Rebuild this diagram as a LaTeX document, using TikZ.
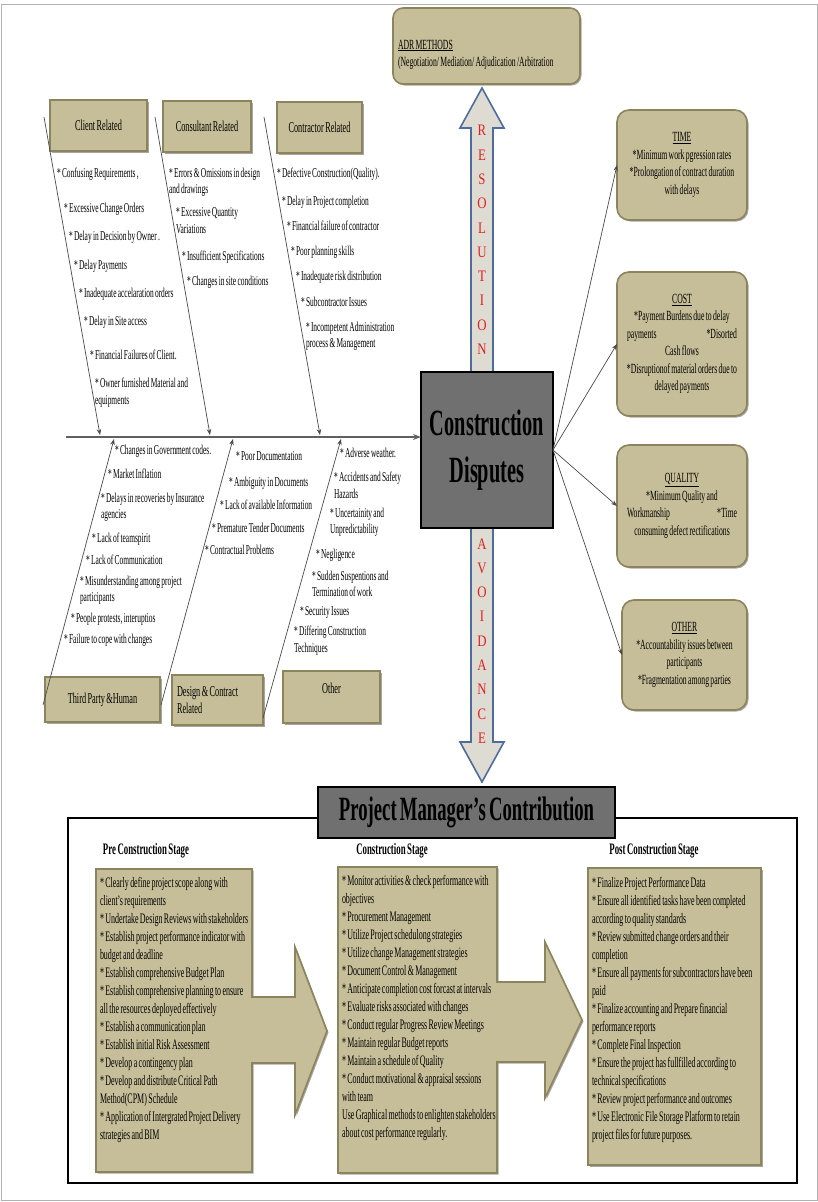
\documentclass[tikz,border=0pt]{standalone}
\usepackage{fontspec}
\setmainfont{Liberation Serif}[FakeStretch=0.55,WordSpace=0.7]
\newfontfamily\spinefont{Liberation Serif}[FakeStretch=0.8]
\usetikzlibrary{arrows.meta,shadows}

\definecolor{khaki}{HTML}{C6BE98}
\definecolor{khakiedge}{HTML}{8C845C}
\definecolor{slate}{HTML}{707070}
\definecolor{blockfill}{HTML}{DEDCD2}
\definecolor{blockedge}{HTML}{4E6C9C}
\definecolor{bonegray}{HTML}{4A4A4A}
\definecolor{signred}{HTML}{E0201C}

\newcommand{\fs}[2]{\fontsize{#1}{#2}\selectfont}

\begin{document}
\begin{tikzpicture}[x=1pt,y=-1pt,
  every node/.style={inner sep=0pt,outer sep=0pt},
  softshadow/.style={drop shadow={shadow xshift=1.5pt,shadow yshift=-1.5pt,fill=black,opacity=0.35}},
  catbox/.style={draw=khakiedge,line width=1.6pt,fill=khaki,softshadow,font=\fs{15}{17}},
  effbox/.style={draw=khakiedge,line width=1.6pt,fill=khaki,softshadow,rounded corners=12pt,
                 align=center,font=\fs{14}{17.5}},
  cause/.style={anchor=north west,align=left,font=\fs{13.5}{16.5}},
  bonearrow/.style={draw=bonegray,line width=0.7pt,-{Stealth[length=6pt,width=4.5pt]}},
  effarrow/.style={draw=bonegray,line width=0.7pt,-{Stealth[length=6pt,width=4.5pt]}},
  blockarrow/.style={fill=blockfill,draw=blockedge,line width=1.6pt,line join=miter},
  stagebox/.style={fill=khaki,draw=khakiedge,line width=1.6pt,softshadow,line join=miter},
  stagetext/.style={anchor=north west,align=left,font=\fs{14.5}{18}},
  stagehead/.style={font=\bfseries\fs{16}{18}},
  signword/.style={align=center,text=signred,font=\spinefont\fs{16}{24.3}},
]
\useasboundingbox (0,0) rectangle (818,1202);
\draw[gray!60,line width=1pt] (1,4) rectangle (817,1200);

% ---------- resolution / avoidance block arrows ----------
\path[blockarrow] (471,372) -- (471,128) -- (460,128) -- (482,88) -- (504,128) -- (493,128) -- (493,372) -- cycle;
\path[blockarrow] (471,528) -- (471,742) -- (460,742) -- (482,782) -- (504,742) -- (493,742) -- (493,528) -- cycle;
\node[signword] (resolution) at (482,240) {R\\E\\S\\O\\L\\U\\T\\I\\O\\N};
\node[signword] (avoidance) at (482,641) {A\\V\\O\\I\\D\\A\\N\\C\\E};

% ---------- ADR methods ----------
\node[catbox,rounded corners=10pt,minimum width=187pt,minimum height=76pt,align=flush left,
      text width=177pt,font=\fs{14}{17.5}] (adr) at (486.5,46)
      {\phantom{A}\\\underline{ADR METHODS}\\(Negotiation/ Mediation/ Adjudication /Arbitration};

% ---------- central problem ----------
\node[draw=black,line width=1.4pt,fill=slate,minimum width=132pt,minimum height=156pt,
      align=center,font=\bfseries\fs{37}{47}] (cd) at (487,450) {Construction\\Disputes};

% ---------- fishbone: spine ----------
\coordinate (tail) at (66,437);
\draw[draw=gray!75!black,line width=1.6pt,-{Stealth[length=8pt,width=6pt]}] (tail) -- (tail -| cd.west);

% ---------- category heads ----------
\node[catbox,minimum width=97pt,minimum height=51pt] (client) at (98.5,125.5) {Client Related};
\node[catbox,minimum width=88pt,minimum height=51pt] (consultant) at (207,126.5) {Consultant Related};
\node[catbox,minimum width=85pt,minimum height=51pt] (contractor) at (319.5,127.5) {Contractor Related};
\node[catbox,minimum width=115pt,minimum height=45pt] (thirdparty) at (102.5,699.5) {Third Party \&Human};
\node[catbox,minimum width=91pt,minimum height=50pt,align=flush left,text width=81pt] (design) at (217.5,700) {Design \& Contract\\Related};
\node[catbox,minimum width=97pt,minimum height=52pt,align=center] (othercat) at (331.5,697) {Other\\\phantom{O}};

% ---------- bones ----------
\coordinate (k1) at (44,117);   \coordinate (j1) at (100,435);
\coordinate (k2) at (155,117);  \coordinate (j2) at (210,435);
\coordinate (k3) at (264,117);  \coordinate (j3) at (320,435);
\coordinate (k4) at (43,705);   \coordinate (j4) at (114,439);
\coordinate (k5) at (161,705);  \coordinate (j5) at (233,439);
\coordinate (k6) at (263,718);  \coordinate (j6) at (341,439);
\foreach \i in {1,...,6} {\draw[bonearrow] (k\i) -- (j\i);}

% ---------- causes: client ----------
\node[cause] (c1) at (57,168) {* Confusing Requirements ,};
\node[cause] (c2) at (64,203) {* Excessive Change Orders};
\node[cause] (c3) at (69,231) {* Delay in Decision by Owner .};
\node[cause] (c4) at (74,260) {* Delay Payments};
\node[cause] (c5) at (79,288) {* Inadequate accelaration orders};
\node[cause] (c6) at (84,316) {* Delay in Site access};
\node[cause] (c7) at (90,350) {* Financial Failures of Client.};
\node[cause] (c8) at (95,378) {* Owner furnished Material and\\equipments};

% ---------- causes: consultant ----------
\node[cause] (n1) at (169,168) {* Errors \& Omissions in design\\and drawings};
\node[cause] (n2) at (176,208) {* Excessive Quantity\\Variations};
\node[cause] (n3) at (182,251) {* Insufficient Specifications};
\node[cause] (n4) at (187,276) {* Changes in site conditions};

% ---------- causes: contractor ----------
\node[cause] (t1) at (277,168) {* Defective Construction(Quality).};
\node[cause] (t2) at (282,196) {* Delay in Project completion};
\node[cause] (t3) at (287,221) {* Financial failure of contractor};
\node[cause] (t4) at (291,246) {* Poor planning skills};
\node[cause] (t5) at (296,271) {* Inadequate risk distribution};
\node[cause] (t6) at (301,297) {* Subcontractor Issues};
\node[cause] (t7) at (306,322) {* Incompetent Administration\\process \& Management};

% ---------- causes: third party & human ----------
\node[cause] (h1) at (115,445) {* Changes in Government codes.};
\node[cause] (h2) at (108,469) {* Market Inflation};
\node[cause] (h3) at (101,493) {* Delays in recoveries by Insurance\\agencies};
\node[cause] (h4) at (92,533) {* Lack of teamspirit};
\node[cause] (h5) at (86,555) {* Lack of Communication};
\node[cause] (h6) at (80,576) {* Misunderstanding among project\\participants};
\node[cause] (h7) at (71,613) {* People protests, interuptios};
\node[cause] (h8) at (64,634) {* Failure to cope with changes};

% ---------- causes: design & contract ----------
\node[cause] (d1) at (236,452) {* Poor Documentation};
\node[cause] (d2) at (229,477) {* Ambiguity in Documents};
\node[cause] (d3) at (220,500) {* Lack of available Information};
\node[cause] (d4) at (212,523) {* Premature Tender Documents};
\node[cause] (d5) at (205,545) {* Contractual Problems};

% ---------- causes: other ----------
\node[cause] (o1) at (340,448) {* Adverse weather.};
\node[cause] (o2) at (334,472) {* Accidents and Safety\\Hazards};
\node[cause] (o3) at (330,508) {* Uncertainity and\\Unpredictability};
\node[cause] (o4) at (316,549) {* Negligence};
\node[cause] (o5) at (312,571) {* Sudden Suspentions and\\Termination of work};
\node[cause] (o6) at (300,607) {* Security Issues};
\node[cause] (o7) at (294,626) {* Differing Construction\\Techniques};

% ---------- effects ----------
\node[effbox,minimum width=130pt,minimum height=110pt] (time) at (682,165)
  {\underline{TIME}\\{}*Minimum work pgression rates\\{}*Prolongation of contract duration\\with delays};
\node[effbox,minimum width=130pt,minimum height=144pt] (cost) at (682,344)
  {\underline{COST}\\{}*Payment Burdens due to delay\\\makebox[110pt]{payments\hfill{}*Disorted}\\Cash flows\\{}*Disruptionof material orders due to\\delayed payments};
\node[effbox,minimum width=130pt,minimum height=122pt] (quality) at (682,506)
  {\underline{QUALITY}\\{}*Minimum Quality and\\\makebox[110pt]{Workmanship\hfill{}*Time}\\consuming defect rectifications};
\node[effbox,minimum width=125pt,minimum height=110pt] (othereff) at (684.5,655)
  {\underline{OTHER}\\{}*Accountability issues between\\participants\\{}*Fragmentation among parties};
\foreach \e in {time,cost,quality,othereff} {\draw[effarrow] (cd.east) -- (\e.west);}

% ---------- project manager's contribution ----------
\draw[line width=1.2pt] (68,818) rectangle (797,1183);
\node[draw=black,line width=1.4pt,fill=slate,minimum width=297pt,minimum height=51pt,
      font=\bfseries\fs{34}{40}] (pmc) at (466.5,812.5) {Project Manager's Contribution};

\node[stagehead] (prehead) at (146,851) {Pre Construction Stage};
\node[stagehead] (conhead) at (392,851) {Construction Stage};
\node[stagehead] (posthead) at (654,851) {Post Construction Stage};

\path[stagebox] (96,869) -- (252,869) -- (252,997) -- (295,997) -- (295,947) -- (327,1031)
  -- (295,1115) -- (295,1063) -- (252,1063) -- (252,1172) -- (96,1172) -- cycle;
\path[stagebox] (338,867) -- (497,867) -- (497,982) -- (545,982) -- (545,942) -- (582,1020)
  -- (545,1098) -- (545,1062) -- (497,1062) -- (497,1173) -- (338,1173) -- cycle;
\path[stagebox] (588,868) rectangle (761,1165);

\node[stagetext] (pretext) at (100,877) {* Clearly define project scope along with\\client's requirements\\{}* Undertake Design Reviews with stakeholders\\{}* Establish project performance indicator with\\budget and deadline\\{}* Establish comprehensive Budget Plan\\{}* Establish comprehensive planning to ensure\\all the resources deployed effectively\\{}* Establish a communication plan\\{}* Establish initial Risk Assessment\\{}* Develop a contingency plan\\{}* Develop and distribute Critical Path\\Method(CPM) Schedule\\{}* Application of Intergrated Project Delivery\\strategies and BIM};

\node[stagetext] (context) at (342,875) {* Monitor activities \& check performance with\\objectives\\{}* Procurement Management\\{}* Utilize Project schedulong strategies\\{}* Utilize change Management strategies\\{}* Document Control \& Management\\{}* Anticipate completion cost forcast at intervals\\{}* Evaluate risks associated with changes\\{}* Conduct regular Progress Review Meetings\\{}* Maintain regular Budget reports\\{}* Maintain a schedule of Quality\\{}* Conduct motivational \& appraisal sessions\\with team\\Use Graphical methods to enlighten stakeholders\\about cost performance regularly.};

\node[stagetext] (posttext) at (592,877) {* Finalize Project Performance Data\\{}* Ensure all identified tasks have been completed\\according to quality standards\\{}* Review submitted change orders and their\\completion\\{}* Ensure all payments for subcontractors have been\\paid\\{}* Finalize accounting and Prepare financial\\performance reports\\{}* Complete Final Inspection\\{}* Ensure the project has fullfilled according to\\technical specifications\\{}* Review project performance and outcomes\\{}* Use Electronic File Storage Platform to retain\\project files for future purposes.};
\end{tikzpicture}
\end{document}
